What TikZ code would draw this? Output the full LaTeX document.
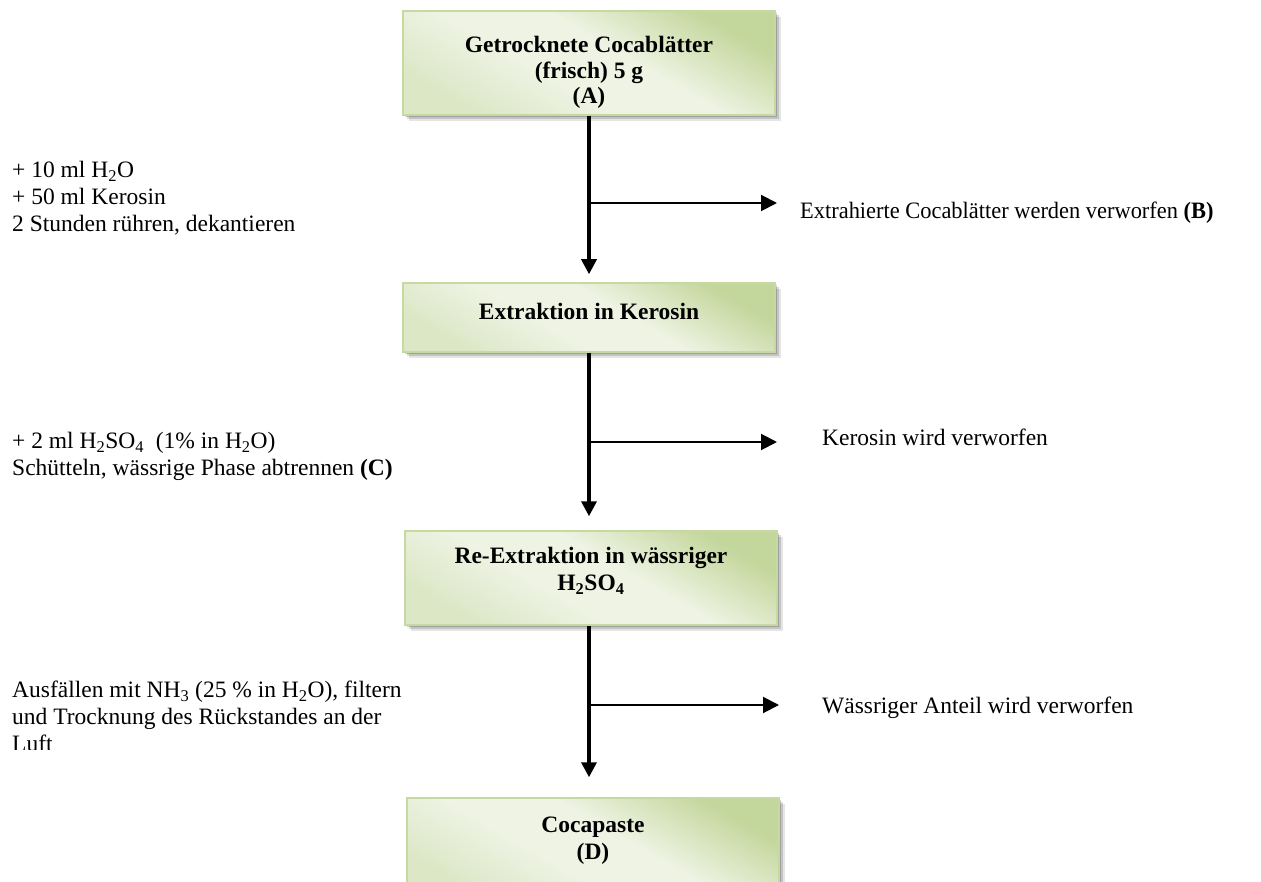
\documentclass[tikz,border=0pt]{standalone}
\usepackage{fontspec}
\usepackage{graphicx}
\setmainfont{Liberation Serif}
\usetikzlibrary{arrows.meta,shadows,calc}
\definecolor{boxdark}{HTML}{C3D69B}
\definecolor{boxlight}{HTML}{EEF3E3}
\definecolor{boxmid}{HTML}{DCE7C6}
\definecolor{boxline}{HTML}{C6D9A0}
\pgfdeclarehorizontalshading{cocashade}{100bp}{color(0bp)=(boxmid); color(25bp)=(boxmid); color(42bp)=(boxlight); color(56bp)=(boxlight); color(75bp)=(boxdark); color(100bp)=(boxdark)}
\newcommand\bodyfont{\fontsize{23.5pt}{27pt}\selectfont}
\newcommand\txtblk[2]{\raisebox{#1}[\height][\depth]{\begin{tabular}{@{}c@{}}#2\end{tabular}}}
\newcommand\ltxtblk[1]{\begin{tabular}{@{}l@{}}#1\end{tabular}}
\tikzset{
  cocabox/.style={draw=boxline, line width=1.5pt, shade, shading=cocashade, shading angle=60,
    minimum width=372pt, inner sep=0pt, font=\bodyfont\bfseries, align=center,
    drop shadow={shadow xshift=2pt, shadow yshift=-2pt, opacity=0.18, fill=black},
    drop shadow={shadow xshift=4pt, shadow yshift=-4pt, opacity=0.14, fill=black},
    drop shadow={shadow xshift=6pt, shadow yshift=-6pt, opacity=0.10, fill=black}},
  sidetext/.style={inner sep=0pt, anchor=west, font=\bodyfont},
  vline/.style={line width=3.5pt, -{Triangle[width=15pt,length=15pt]}},
  hline/.style={line width=2pt, -{Triangle[width=16pt,length=16pt]}}
}
\begin{document}
\begin{tikzpicture}[x=1pt,y=-1pt]
\useasboundingbox (0,0) rectangle (1261,882);
\fill[white] (0,0) rectangle (1261,882);
\clip (0,0) rectangle (1261,882);

% boxes
\node[cocabox, minimum height=104pt] (A) at (589,63)
  {\txtblk{-10pt}{Getrocknete Cocablätter\\[-1.5pt](frisch) 5 g\\[-1.5pt](A)}};
\node[cocabox, minimum height=69pt] (B) at (589,317.5)
  {\txtblk{3pt}{Extraktion in Kerosin}};
\node[cocabox, minimum height=94pt] (C) at (591,578)
  {\txtblk{6pt}{Re-Extraktion in wässriger\\H\textsubscript{2}SO\textsubscript{4}}};
\node[cocabox, minimum height=100pt] (D) at (593,848)
  {\txtblk{7pt}{Cocapaste\\(D)}};

% left texts
\node[sidetext] (L1) at (12,199)
  {\ltxtblk{+ 10 ml H\textsubscript{2}O\\+ 50 ml Kerosin\\2 Stunden rühren, dekantieren}};
\node[sidetext] (L2) at (12,457)
  {\ltxtblk{+ 2 ml H\textsubscript{2}SO\textsubscript{4}\ \ (1\% in H\textsubscript{2}O)\\Schütteln, wässrige Phase abtrennen \textbf{(C)}}};
\begin{scope}
\clip (0,660) rectangle (470,749);
\node[sidetext] (L3) at (12,719)
  {\ltxtblk{Ausfällen mit NH\textsubscript{3} (25 \% in H\textsubscript{2}O), filtern\\und Trocknung des Rückstandes an der\\Luft}};
\end{scope}

% right texts
\node[sidetext] (R1) at (800,213) {\scalebox{0.954}[1]{Extrahierte Cocablätter werden verworfen \textbf{(B)}}};
\node[sidetext] (R2) at (822,437) {Kerosin wird verworfen};
\node[sidetext] (R3) at (822,708) {Wässriger Anteil wird verworfen};

% main flow
\draw[vline] (A.south) -- ([yshift=8pt]A.south |- B.north);
\draw[vline] (B.south) -- ([yshift=14pt]B.south |- C.north);
\draw[vline] (B.south |- C.south) -- ([yshift=20pt]B.south |- D.north);

% branches
\coordinate (j1) at (589,203);
\coordinate (j2) at (589,442);
\coordinate (j3) at (589,705);
\draw[hline, shorten >=23pt] (j1) -- (j1 -| R1.west);
\draw[hline, shorten >=45pt] (j2) -- (j2 -| R2.west);
\draw[hline, shorten >=43pt] (j3) -- (j3 -| R3.west);
\end{tikzpicture}
\end{document}
